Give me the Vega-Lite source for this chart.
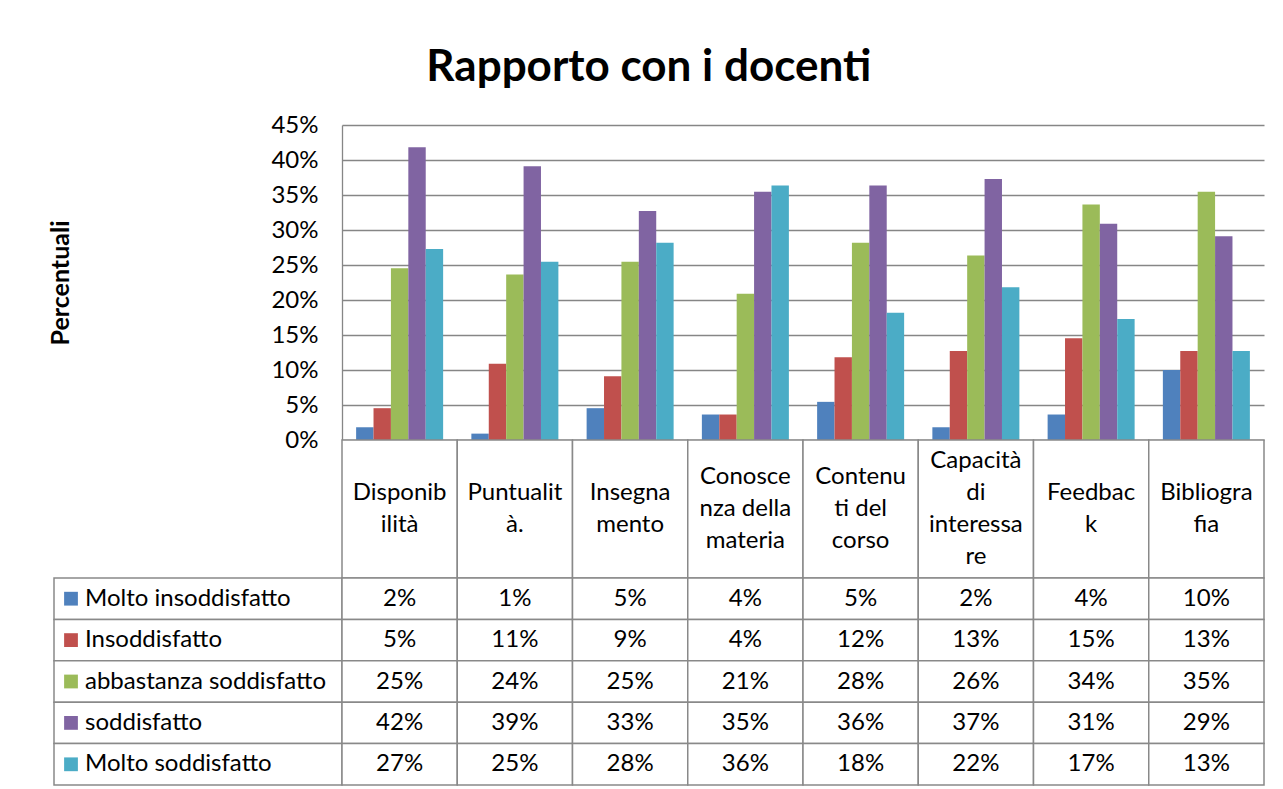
{
  "$schema": "https://vega.github.io/schema/vega-lite/v6.json",
  "background": "white",
  "padding": {"left": 48, "top": 46, "right": 17, "bottom": 4},
  "title": {"text": "Rapporto con i docenti", "font": "Lato", "fontSize": 44, "fontWeight": "bold", "color": "black", "anchor": "middle", "baseline": "alphabetic", "offset": -12, "dx": -8},
  "config": {"view": {"stroke": null}, "font": "Lato"},
  "bounds": "flush",
  "columns": 2,
  "spacing": 0,
  "datasets": {
    "bars": [
      {"category": "Disponibilità", "series": "Molto insoddisfatto", "value": 0.0182},
      {"category": "Disponibilità", "series": "Insoddisfatto", "value": 0.04545},
      {"category": "Disponibilità", "series": "abbastanza soddisfatto", "value": 0.2455},
      {"category": "Disponibilità", "series": "soddisfatto", "value": 0.4182},
      {"category": "Disponibilità", "series": "Molto soddisfatto", "value": 0.2727},
      {"category": "Puntualità.", "series": "Molto insoddisfatto", "value": 0.0091},
      {"category": "Puntualità.", "series": "Insoddisfatto", "value": 0.1091},
      {"category": "Puntualità.", "series": "abbastanza soddisfatto", "value": 0.2364},
      {"category": "Puntualità.", "series": "soddisfatto", "value": 0.3909},
      {"category": "Puntualità.", "series": "Molto soddisfatto", "value": 0.2545},
      {"category": "Insegnamento", "series": "Molto insoddisfatto", "value": 0.04545},
      {"category": "Insegnamento", "series": "Insoddisfatto", "value": 0.0909},
      {"category": "Insegnamento", "series": "abbastanza soddisfatto", "value": 0.2545},
      {"category": "Insegnamento", "series": "soddisfatto", "value": 0.3273},
      {"category": "Insegnamento", "series": "Molto soddisfatto", "value": 0.2818},
      {"category": "Conoscenza della materia", "series": "Molto insoddisfatto", "value": 0.0364},
      {"category": "Conoscenza della materia", "series": "Insoddisfatto", "value": 0.0364},
      {"category": "Conoscenza della materia", "series": "abbastanza soddisfatto", "value": 0.2091},
      {"category": "Conoscenza della materia", "series": "soddisfatto", "value": 0.3545},
      {"category": "Conoscenza della materia", "series": "Molto soddisfatto", "value": 0.3636},
      {"category": "Contenuti del corso", "series": "Molto insoddisfatto", "value": 0.0545},
      {"category": "Contenuti del corso", "series": "Insoddisfatto", "value": 0.1182},
      {"category": "Contenuti del corso", "series": "abbastanza soddisfatto", "value": 0.2818},
      {"category": "Contenuti del corso", "series": "soddisfatto", "value": 0.3636},
      {"category": "Contenuti del corso", "series": "Molto soddisfatto", "value": 0.1818},
      {"category": "Capacità di interessare", "series": "Molto insoddisfatto", "value": 0.0182},
      {"category": "Capacità di interessare", "series": "Insoddisfatto", "value": 0.1273},
      {"category": "Capacità di interessare", "series": "abbastanza soddisfatto", "value": 0.2636},
      {"category": "Capacità di interessare", "series": "soddisfatto", "value": 0.3727},
      {"category": "Capacità di interessare", "series": "Molto soddisfatto", "value": 0.2182},
      {"category": "Feedback", "series": "Molto insoddisfatto", "value": 0.0364},
      {"category": "Feedback", "series": "Insoddisfatto", "value": 0.1455},
      {"category": "Feedback", "series": "abbastanza soddisfatto", "value": 0.3364},
      {"category": "Feedback", "series": "soddisfatto", "value": 0.3091},
      {"category": "Feedback", "series": "Molto soddisfatto", "value": 0.1727},
      {"category": "Bibliografia", "series": "Molto insoddisfatto", "value": 0.1},
      {"category": "Bibliografia", "series": "Insoddisfatto", "value": 0.1273},
      {"category": "Bibliografia", "series": "abbastanza soddisfatto", "value": 0.3545},
      {"category": "Bibliografia", "series": "soddisfatto", "value": 0.2909},
      {"category": "Bibliografia", "series": "Molto soddisfatto", "value": 0.1273}
    ],
    "cats": [
      {"category": "Disponibilità", "label": "Disponib\nilità"},
      {"category": "Puntualità.", "label": "Puntualit\nà."},
      {"category": "Insegnamento", "label": "Insegna\nmento"},
      {"category": "Conoscenza della materia", "label": "Conosce\nnza della\nmateria"},
      {"category": "Contenuti del corso", "label": "Contenu\nti del\ncorso"},
      {"category": "Capacità di interessare", "label": "Capacità\ndi\ninteressa\nre"},
      {"category": "Feedback", "label": "Feedbac\nk"},
      {"category": "Bibliografia", "label": "Bibliogra\nfia"}
    ],
    "series": [
      {"series": "Molto insoddisfatto"},
      {"series": "Insoddisfatto"},
      {"series": "abbastanza soddisfatto"},
      {"series": "soddisfatto"},
      {"series": "Molto soddisfatto"}
    ]
  },
  "resolve": {"scale": {"x": "independent", "y": "independent", "color": "independent"}},
  "concat": [
    {"width": 288, "height": 315, "data": {"values": []}, "mark": "point", "encoding": {}},
    {
      "width": 922, "height": 315,
      "data": {"name": "bars"},
      "mark": {"type": "bar"},
      "encoding": {
        "x": {"field": "category", "type": "nominal", "sort": null,
              "scale": {"domain": ["Disponibilità", "Puntualità.", "Insegnamento", "Conoscenza della materia", "Contenuti del corso", "Capacità di interessare", "Feedback", "Bibliografia"], "paddingInner": 0.245, "paddingOuter": 0.1225},
              "axis": null},
        "xOffset": {"field": "series", "type": "nominal", "sort": null,
                    "scale": {"domain": ["Molto insoddisfatto", "Insoddisfatto", "abbastanza soddisfatto", "soddisfatto", "Molto soddisfatto"], "paddingInner": 0, "paddingOuter": 0}},
        "y": {"field": "value", "type": "quantitative",
              "scale": {"domain": [0, 0.45], "nice": false, "zero": true},
              "axis": {"values": [0, 0.05, 0.1, 0.15, 0.2, 0.25, 0.3, 0.35, 0.4, 0.45], "format": ".0%",
                       "title": "Percentuali", "titleFont": "Lato", "titleFontSize": 25, "titleFontWeight": "bold", "titleColor": "black", "titlePadding": 197,
                       "labelFont": "Lato", "labelFontSize": 24, "labelColor": "black", "labelPadding": 24,
                       "ticks": false, "grid": true, "gridColor": "#868686", "gridWidth": 1.3,
                       "domainColor": "#868686", "domainWidth": 1.3}},
        "color": {"field": "series", "type": "nominal",
                  "scale": {"domain": ["Molto insoddisfatto", "Insoddisfatto", "abbastanza soddisfatto", "soddisfatto", "Molto soddisfatto"], "range": ["#4F81BD", "#C0504D", "#9BBB59", "#8064A2", "#4BACC6"]},
                  "legend": null}
      }
    },
    {"width": 288, "height": 138, "data": {"values": []}, "mark": "point", "encoding": {}},
    {
      "width": 922, "height": 138,
      "data": {"name": "cats"},
      "encoding": {
        "x": {"field": "category", "type": "nominal", "sort": null,
              "scale": {"domain": ["Disponibilità", "Puntualità.", "Insegnamento", "Conoscenza della materia", "Contenuti del corso", "Capacità di interessare", "Feedback", "Bibliografia"], "paddingInner": 0, "paddingOuter": 0},
              "axis": null}
      },
      "layer": [
        {"mark": {"type": "rect", "fill": "white", "stroke": "#898989", "strokeWidth": 1.5}},
        {"transform": [{"filter": {"field": "category", "oneOf": ["Disponibilità", "Puntualità.", "Insegnamento", "Feedback", "Bibliografia"]}}],
         "mark": {"type": "text", "font": "Lato", "fontSize": 24, "lineHeight": 32, "lineBreak": "\n", "baseline": "middle", "align": "center", "color": "black", "dy": -16},
         "encoding": {"text": {"field": "label"}}},
        {"transform": [{"filter": {"field": "category", "oneOf": ["Conoscenza della materia", "Contenuti del corso"]}}],
         "mark": {"type": "text", "font": "Lato", "fontSize": 24, "lineHeight": 32, "lineBreak": "\n", "baseline": "middle", "align": "center", "color": "black", "dy": -32},
         "encoding": {"text": {"field": "label"}}},
        {"transform": [{"filter": {"field": "category", "oneOf": ["Capacità di interessare"]}}],
         "mark": {"type": "text", "font": "Lato", "fontSize": 24, "lineHeight": 32, "lineBreak": "\n", "baseline": "middle", "align": "center", "color": "black", "dy": -48},
         "encoding": {"text": {"field": "label"}}}
      ]
    },
    {
      "width": 288, "height": 207,
      "data": {"name": "series"},
      "encoding": {
        "y": {"field": "series", "type": "nominal", "sort": null,
              "scale": {"domain": ["Molto insoddisfatto", "Insoddisfatto", "abbastanza soddisfatto", "soddisfatto", "Molto soddisfatto"], "paddingInner": 0, "paddingOuter": 0},
              "axis": null}
      },
      "layer": [
        {"mark": {"type": "rect", "fill": "white", "stroke": "#898989", "strokeWidth": 1.5}},
        {"mark": {"type": "point", "shape": "square", "filled": true, "size": 190, "opacity": 1, "x": 17},
         "encoding": {"color": {"field": "series", "type": "nominal",
                  "scale": {"domain": ["Molto insoddisfatto", "Insoddisfatto", "abbastanza soddisfatto", "soddisfatto", "Molto soddisfatto"], "range": ["#4F81BD", "#C0504D", "#9BBB59", "#8064A2", "#4BACC6"]},
                  "legend": null}}},
        {"mark": {"type": "text", "font": "Lato", "fontSize": 24, "align": "left", "baseline": "middle", "color": "black", "x": 31},
         "encoding": {"text": {"field": "series"}}}
      ]
    },
    {
      "width": 922, "height": 207,
      "data": {"name": "bars"},
      "encoding": {
        "x": {"field": "category", "type": "nominal", "sort": null,
              "scale": {"domain": ["Disponibilità", "Puntualità.", "Insegnamento", "Conoscenza della materia", "Contenuti del corso", "Capacità di interessare", "Feedback", "Bibliografia"], "paddingInner": 0, "paddingOuter": 0},
              "axis": null},
        "y": {"field": "series", "type": "nominal", "sort": null,
              "scale": {"domain": ["Molto insoddisfatto", "Insoddisfatto", "abbastanza soddisfatto", "soddisfatto", "Molto soddisfatto"], "paddingInner": 0, "paddingOuter": 0},
              "axis": null}
      },
      "layer": [
        {"mark": {"type": "rect", "fill": "white", "stroke": "#898989", "strokeWidth": 1.5}},
        {"mark": {"type": "text", "font": "Lato", "fontSize": 24, "align": "center", "baseline": "middle", "color": "black"},
         "encoding": {"text": {"field": "value", "type": "quantitative", "format": ".0%"}}}
      ]
    }
  ]
}
